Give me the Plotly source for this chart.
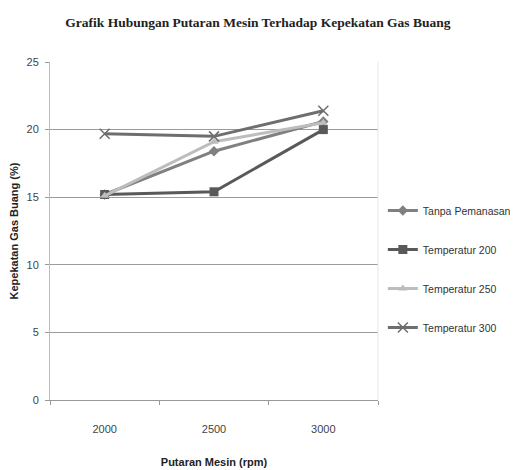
import plotly.graph_objects as go

categories = ["2000", "2500", "3000"]
series_names = ["Tanpa Pemanasan", "Temperatur 200", "Temperatur 250", "Temperatur 300"]
tanpa = [15.2, 18.4, 20.6]
temp200 = [15.2, 15.4, 20.0]
temp250 = [15.1, 19.1, 20.5]
temp300 = [19.7, 19.5, 21.4]
y_ticks = [0, 5, 10, 15, 20, 25]

values = [tanpa, temp200, temp250, temp300]
colors = ["#808080", "#595959", "#bdbdbd", "#6e6e6e"]
symbols = ["diamond", "square", "triangle-up", "x-thin-open"]
msizes = [8, 9, 8, 10]

fig = go.Figure()
for i, (name, vals) in enumerate(zip(series_names, values)):
    marker = dict(symbol=symbols[i], size=msizes[i], color=colors[i])
    if symbols[i] == "x-thin-open":
        marker["line"] = dict(width=1.5, color=colors[i])
    fig.add_trace(go.Scatter(
        x=categories, y=vals, name=name, mode="lines+markers",
        line=dict(color=colors[i], width=3),
        marker=marker, legendgroup=name,
    ))

sans = "Liberation Sans, Arial, sans-serif"
fig.update_layout(
    width=510, height=462,
    margin=dict(l=42, r=140, t=54, b=70),
    paper_bgcolor="white", plot_bgcolor="white",
    title=dict(text="<b>Grafik Hubungan Putaran Mesin Terhadap Kepekatan Gas Buang</b>",
               x=0.49, xanchor="center", y=0.97, yanchor="middle",
               font=dict(family="Liberation Serif, serif", size=13.5, color="#222")),
    xaxis=dict(type="category", range=[-0.5, 2.5], tickson="boundaries",
               ticks="outside", ticklen=4, tickcolor="#999",
               showline=True, linecolor="#999", linewidth=1, mirror=False,
               showgrid=False, automargin=False, ticklabelstandoff=19,
               tickfont=dict(family=sans, size=11, color="#444"),
               title=dict(text="<b>Putaran Mesin (rpm)</b>", standoff=24,
                          font=dict(family=sans, size=11, color="#222"))),
    yaxis=dict(range=[0, 25], tickvals=y_ticks, ticks="outside", ticklen=4,
               tickcolor="#999", showline=True, linecolor="#bbb", linewidth=1,
               showgrid=True, gridcolor="#9a9a9a", gridwidth=1, zeroline=False,
               automargin=False, ticklabelstandoff=4,
               tickfont=dict(family=sans, size=11, color="#444"),
               title=dict(text="<b>Kepekatan Gas Buang (%)</b>", standoff=8,
                          font=dict(family=sans, size=11, color="#222"))),
    legend=dict(xref="container", x=0.735, xanchor="left",
                yref="container", y=0.435, yanchor="middle",
                font=dict(family=sans, size=10.5, color="#333"),
                tracegroupgap=20, itemwidth=30, bgcolor="rgba(0,0,0,0)"),
    showlegend=True,
)
fig.add_shape(type="line", xref="paper", yref="paper", x0=1, x1=1, y0=0, y1=1,
              line=dict(color="#e6e6e6", width=1))

fig.write_html("out.html")
